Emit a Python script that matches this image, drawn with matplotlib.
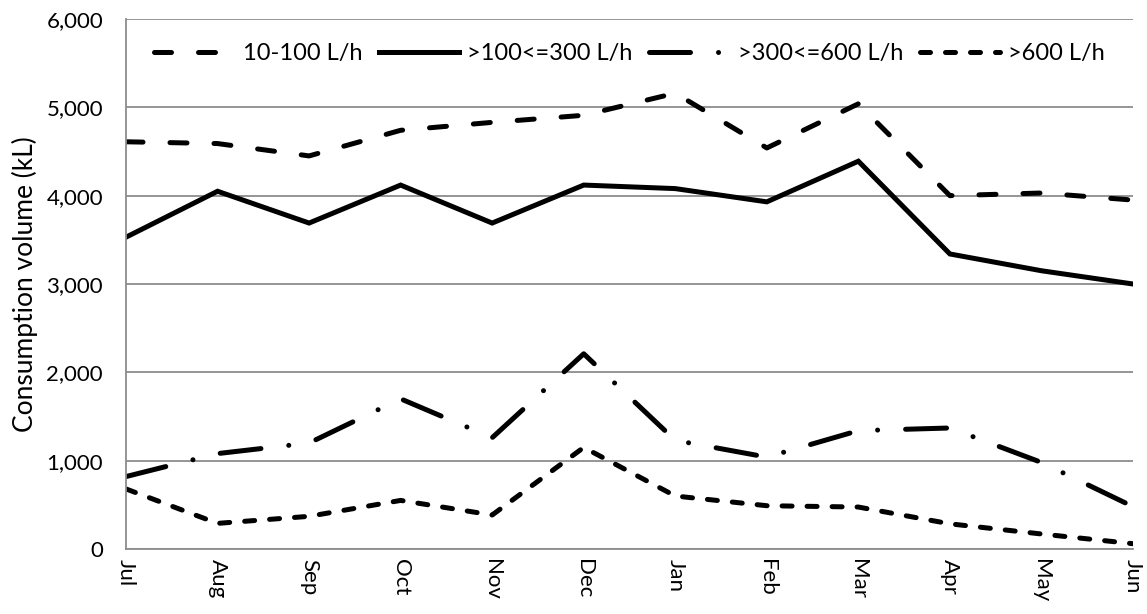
import matplotlib
matplotlib.use("Agg")
import matplotlib.pyplot as plt
from matplotlib.ticker import FuncFormatter

months = ["Jul", "Aug", "Sep", "Oct", "Nov", "Dec", "Jan", "Feb", "Mar", "Apr", "May", "Jun"]
s_10_100 = [4610, 4590, 4450, 4740, 4830, 4910, 5160, 4540, 5040, 4000, 4030, 3950]
s_100_300 = [3530, 4050, 3690, 4120, 3690, 4120, 4080, 3930, 4390, 3340, 3150, 3000]
s_300_600 = [820, 1080, 1200, 1700, 1260, 2210, 1230, 1040, 1340, 1370, 980, 480]
s_600 = [680, 290, 370, 550, 385, 1150, 600, 490, 475, 285, 170, 60]
labels = ["10-100 L/h", ">100<=300 L/h", ">300<=600 L/h", ">600 L/h"]

plt.rcParams['font.family'] = ['Lato', 'DejaVu Sans']

fig = plt.figure(figsize=(11.47, 6.14), dpi=100)
ax = fig.add_axes([126/1147, 1-549/614, (1133-126)/1147, (549-19)/614])

x = list(range(len(months)))
lw = 3.6
ax.plot(x, s_10_100, color='black', lw=lw, dashes=(3.4, 5.4), dash_capstyle='round', label=labels[0])
ax.plot(x, s_100_300, color='black', lw=lw, solid_joinstyle='miter', label=labels[1])
ax.plot(x, s_300_600, color='black', lw=lw, dashes=(8.2, 5.6, 0.01, 5.6), dash_capstyle='round', label=labels[2])
ax.plot(x, s_600, color='black', lw=lw, dashes=(2.0, 3.0), dash_capstyle='round', label=labels[3])

ax.set_xlim(0, len(months) - 1)
ax.set_ylim(0, 6000)
ax.set_yticks(range(0, 6001, 1000))
ax.yaxis.set_major_formatter(FuncFormatter(lambda v, p: f"{int(v):,}"))
ax.set_xticks(x)
ax.set_xticklabels(months, rotation=-90, va='top', ha='center')
ax.tick_params(axis='x', length=0, labelsize=16, colors='black', pad=7)
ax.tick_params(axis='y', length=0, labelsize=16, colors='black', pad=16.5)
ax.grid(axis='y', color='#8c8c8c', lw=1.3)
ax.set_axisbelow(True)
for s in ['top', 'right']:
    ax.spines[s].set_visible(False)
for s in ['left', 'bottom']:
    ax.spines[s].set_color('#8c8c8c')
    ax.spines[s].set_linewidth(1.3)
ax.set_ylabel("Consumption volume (kL)", fontsize=19, labelpad=6)

ax.legend(loc='upper center', bbox_to_anchor=(0.5, 0.995), ncol=4, frameon=False,
          fontsize=17, handlelength=3.4, columnspacing=0.7, handletextpad=0.35)

fig.savefig("out.png", dpi=100)
